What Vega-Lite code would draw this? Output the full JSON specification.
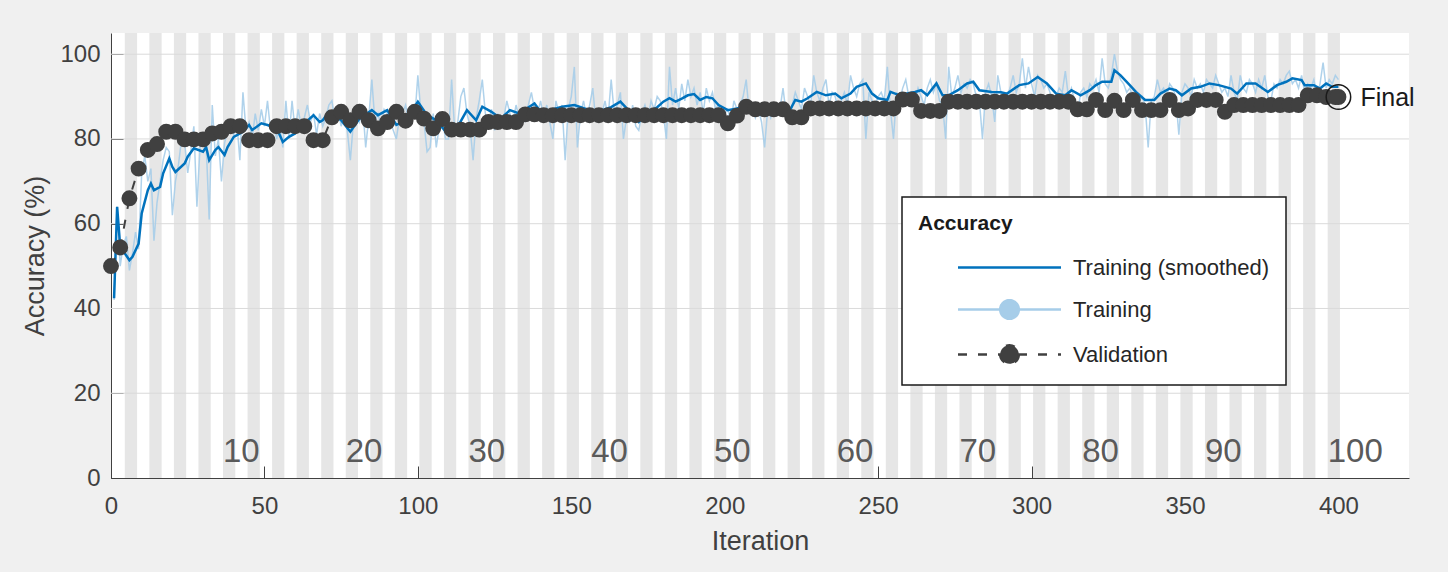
{
  "$schema": "https://vega.github.io/schema/vega-lite/v6.json",
  "width": 1298,
  "height": 445,
  "autosize": {"type": "none"},
  "padding": {"left": 111, "top": 33, "right": 39, "bottom": 94},
  "background": "#f0f0f0",
  "config": {
    "font": "Liberation Sans",
    "view": {"fill": "white", "stroke": null},
    "legend": {
      "orient": "none",
      "legendX": 791,
      "legendY": 164,
      "fillColor": "white",
      "strokeColor": "#1a1a1a",
      "strokeWidth": 1.5,
      "padding": 16,
      "titleFontSize": 21,
      "titleFontWeight": "bold",
      "titleColor": "#1a1a1a",
      "titlePadding": 22,
      "labelFontSize": 22,
      "labelColor": "#262626",
      "labelOffset": 52,
      "labelLimit": 400,
      "symbolSize": 400,
      "symbolOffset": 80,
      "symbolStrokeWidth": 2.5,
      "symbolOpacity": 1,
      "rowPadding": 16
    }
  },
  "datasets": {
    "bands": [
      {"x0": 4.5, "x1": 8.5}, {"x0": 12.5, "x1": 16.5}, {"x0": 20.5, "x1": 24.5}, {"x0": 28.5, "x1": 32.5}, {"x0": 36.5, "x1": 40.5},
      {"x0": 44.5, "x1": 48.5}, {"x0": 52.5, "x1": 56.5}, {"x0": 60.5, "x1": 64.5}, {"x0": 68.5, "x1": 72.5}, {"x0": 76.5, "x1": 80.5},
      {"x0": 84.5, "x1": 88.5}, {"x0": 92.5, "x1": 96.5}, {"x0": 100.5, "x1": 104.5}, {"x0": 108.5, "x1": 112.5}, {"x0": 116.5, "x1": 120.5},
      {"x0": 124.5, "x1": 128.5}, {"x0": 132.5, "x1": 136.5}, {"x0": 140.5, "x1": 144.5}, {"x0": 148.5, "x1": 152.5}, {"x0": 156.5, "x1": 160.5},
      {"x0": 164.5, "x1": 168.5}, {"x0": 172.5, "x1": 176.5}, {"x0": 180.5, "x1": 184.5}, {"x0": 188.5, "x1": 192.5}, {"x0": 196.5, "x1": 200.5},
      {"x0": 204.5, "x1": 208.5}, {"x0": 212.5, "x1": 216.5}, {"x0": 220.5, "x1": 224.5}, {"x0": 228.5, "x1": 232.5}, {"x0": 236.5, "x1": 240.5},
      {"x0": 244.5, "x1": 248.5}, {"x0": 252.5, "x1": 256.5}, {"x0": 260.5, "x1": 264.5}, {"x0": 268.5, "x1": 272.5}, {"x0": 276.5, "x1": 280.5},
      {"x0": 284.5, "x1": 288.5}, {"x0": 292.5, "x1": 296.5}, {"x0": 300.5, "x1": 304.5}, {"x0": 308.5, "x1": 312.5}, {"x0": 316.5, "x1": 320.5},
      {"x0": 324.5, "x1": 328.5}, {"x0": 332.5, "x1": 336.5}, {"x0": 340.5, "x1": 344.5}, {"x0": 348.5, "x1": 352.5}, {"x0": 356.5, "x1": 360.5},
      {"x0": 364.5, "x1": 368.5}, {"x0": 372.5, "x1": 376.5}, {"x0": 380.5, "x1": 384.5}, {"x0": 388.5, "x1": 392.5}, {"x0": 396.5, "x1": 400.5}
    ],
    "grid": [{"g": 20}, {"g": 40}, {"g": 60}, {"g": 80}, {"g": 100}],
    "epochs": [
      {"epoch": "10", "it": 36.5}, {"epoch": "20", "it": 76.5}, {"epoch": "30", "it": 116.5}, {"epoch": "40", "it": 156.5}, {"epoch": "50", "it": 196.5},
      {"epoch": "60", "it": 236.5}, {"epoch": "70", "it": 276.5}, {"epoch": "80", "it": 316.5}, {"epoch": "90", "it": 356.5}, {"epoch": "100", "it": 396.5}
    ],
    "raw": [
      {"i":1,"t":42},{"i":2,"t":64},{"i":3,"t":50},{"i":4,"t":55},{"i":5,"t":57},{"i":6,"t":49},{"i":7,"t":53},{"i":8,"t":58},{"i":9,"t":54},{"i":10,"t":72},
      {"i":11,"t":76},{"i":12,"t":70},{"i":13,"t":73},{"i":14,"t":56},{"i":15,"t":65},{"i":16,"t":70},{"i":17,"t":75},{"i":18,"t":78},{"i":19,"t":77},{"i":20,"t":62},
      {"i":21,"t":70},{"i":22,"t":74},{"i":23,"t":80},{"i":24,"t":79},{"i":25,"t":72},{"i":26,"t":77},{"i":27,"t":83},{"i":28,"t":64},{"i":29,"t":78},{"i":30,"t":80},
      {"i":31,"t":79},{"i":32,"t":61},{"i":33,"t":88},{"i":34,"t":76},{"i":35,"t":80},{"i":36,"t":70},{"i":37,"t":79},{"i":38,"t":82},{"i":39,"t":83},{"i":40,"t":81},
      {"i":41,"t":84},{"i":42,"t":75},{"i":43,"t":91},{"i":44,"t":82},{"i":45,"t":84},{"i":46,"t":80},{"i":47,"t":86},{"i":48,"t":82},{"i":49,"t":87},{"i":50,"t":83},
      {"i":51,"t":89},{"i":52,"t":82},{"i":53,"t":84},{"i":54,"t":80},{"i":55,"t":83},{"i":56,"t":78},{"i":57,"t":89},{"i":58,"t":80},{"i":59,"t":89},{"i":60,"t":82},
      {"i":61,"t":87},{"i":62,"t":83},{"i":63,"t":85},{"i":64,"t":88},{"i":65,"t":84},{"i":66,"t":86},{"i":67,"t":81},{"i":68,"t":86},{"i":69,"t":83},{"i":70,"t":85},
      {"i":71,"t":88},{"i":72,"t":89},{"i":73,"t":84},{"i":74,"t":87},{"i":75,"t":83},{"i":76,"t":86},{"i":77,"t":82},{"i":78,"t":75},{"i":79,"t":84},{"i":80,"t":86},
      {"i":81,"t":84},{"i":82,"t":88},{"i":83,"t":78},{"i":84,"t":85},{"i":85,"t":94},{"i":86,"t":84},{"i":87,"t":86},{"i":88,"t":83},{"i":89,"t":87},{"i":90,"t":86},
      {"i":91,"t":84},{"i":92,"t":82},{"i":93,"t":80},{"i":94,"t":85},{"i":95,"t":86},{"i":96,"t":88},{"i":97,"t":84},{"i":98,"t":87},{"i":99,"t":85},{"i":100,"t":95},
      {"i":101,"t":86},{"i":102,"t":84},{"i":103,"t":77},{"i":104,"t":78},{"i":105,"t":86},{"i":106,"t":78},{"i":107,"t":83},{"i":108,"t":85},{"i":109,"t":80},{"i":110,"t":80},
      {"i":111,"t":94},{"i":112,"t":82},{"i":113,"t":84},{"i":114,"t":90},{"i":115,"t":92},{"i":116,"t":86},{"i":117,"t":83},{"i":118,"t":75},{"i":119,"t":85},{"i":120,"t":89},
      {"i":121,"t":94},{"i":122,"t":86},{"i":123,"t":84},{"i":124,"t":87},{"i":125,"t":82},{"i":126,"t":86},{"i":127,"t":83},{"i":128,"t":85},{"i":129,"t":89},{"i":130,"t":86},
      {"i":131,"t":84},{"i":132,"t":88},{"i":133,"t":85},{"i":134,"t":87},{"i":135,"t":84},{"i":136,"t":88},{"i":137,"t":91},{"i":138,"t":87},{"i":139,"t":86},{"i":140,"t":89},
      {"i":141,"t":85},{"i":142,"t":88},{"i":143,"t":84},{"i":144,"t":80},{"i":145,"t":89},{"i":146,"t":86},{"i":147,"t":88},{"i":148,"t":75},{"i":149,"t":87},{"i":150,"t":90},
      {"i":151,"t":97},{"i":152,"t":78},{"i":153,"t":86},{"i":154,"t":89},{"i":155,"t":85},{"i":156,"t":88},{"i":157,"t":92},{"i":158,"t":84},{"i":159,"t":87},{"i":160,"t":86},
      {"i":161,"t":89},{"i":162,"t":85},{"i":163,"t":94},{"i":164,"t":86},{"i":165,"t":88},{"i":166,"t":91},{"i":167,"t":80},{"i":168,"t":85},{"i":169,"t":84},{"i":170,"t":88},
      {"i":171,"t":83},{"i":172,"t":82},{"i":173,"t":86},{"i":174,"t":88},{"i":175,"t":85},{"i":176,"t":89},{"i":177,"t":87},{"i":178,"t":90},{"i":179,"t":89},{"i":180,"t":86},
      {"i":181,"t":80},{"i":182,"t":97},{"i":183,"t":88},{"i":184,"t":92},{"i":185,"t":87},{"i":186,"t":93},{"i":187,"t":89},{"i":188,"t":94},{"i":189,"t":90},{"i":190,"t":92},
      {"i":191,"t":88},{"i":192,"t":91},{"i":193,"t":86},{"i":194,"t":92},{"i":195,"t":89},{"i":196,"t":91},{"i":197,"t":87},{"i":198,"t":88},{"i":199,"t":85},{"i":200,"t":86},
      {"i":201,"t":87},{"i":202,"t":84},{"i":203,"t":89},{"i":204,"t":87},{"i":205,"t":88},{"i":206,"t":90},{"i":207,"t":94},{"i":208,"t":86},{"i":209,"t":88},{"i":210,"t":85},
      {"i":211,"t":87},{"i":212,"t":84},{"i":213,"t":78},{"i":214,"t":87},{"i":215,"t":85},{"i":216,"t":88},{"i":217,"t":86},{"i":218,"t":87},{"i":219,"t":92},{"i":220,"t":86},
      {"i":221,"t":85},{"i":222,"t":88},{"i":223,"t":91},{"i":224,"t":89},{"i":225,"t":87},{"i":226,"t":92},{"i":227,"t":90},{"i":228,"t":88},{"i":229,"t":95},{"i":230,"t":91},
      {"i":231,"t":89},{"i":232,"t":92},{"i":233,"t":94},{"i":234,"t":88},{"i":235,"t":91},{"i":236,"t":90},{"i":237,"t":87},{"i":238,"t":89},{"i":239,"t":91},{"i":240,"t":88},
      {"i":241,"t":95},{"i":242,"t":92},{"i":243,"t":90},{"i":244,"t":93},{"i":245,"t":94},{"i":246,"t":80},{"i":247,"t":91},{"i":248,"t":89},{"i":249,"t":88},{"i":250,"t":90},
      {"i":251,"t":91},{"i":252,"t":89},{"i":253,"t":97},{"i":254,"t":87},{"i":255,"t":80},{"i":256,"t":91},{"i":257,"t":89},{"i":258,"t":92},{"i":259,"t":94},{"i":260,"t":90},
      {"i":261,"t":91},{"i":262,"t":89},{"i":263,"t":92},{"i":264,"t":90},{"i":265,"t":88},{"i":266,"t":92},{"i":267,"t":94},{"i":268,"t":91},{"i":269,"t":93},{"i":270,"t":89},
      {"i":271,"t":88},{"i":272,"t":80},{"i":273,"t":97},{"i":274,"t":90},{"i":275,"t":92},{"i":276,"t":95},{"i":277,"t":91},{"i":278,"t":93},{"i":279,"t":92},{"i":280,"t":94},
      {"i":281,"t":93},{"i":282,"t":90},{"i":283,"t":89},{"i":284,"t":80},{"i":285,"t":91},{"i":286,"t":93},{"i":287,"t":90},{"i":288,"t":84},{"i":289,"t":95},{"i":290,"t":91},
      {"i":291,"t":89},{"i":292,"t":90},{"i":293,"t":92},{"i":294,"t":95},{"i":295,"t":91},{"i":296,"t":93},{"i":297,"t":99},{"i":298,"t":92},{"i":299,"t":97},{"i":300,"t":93},
      {"i":301,"t":90},{"i":302,"t":95},{"i":303,"t":94},{"i":304,"t":92},{"i":305,"t":93},{"i":306,"t":91},{"i":307,"t":89},{"i":308,"t":90},{"i":309,"t":92},{"i":310,"t":91},
      {"i":311,"t":96},{"i":312,"t":90},{"i":313,"t":92},{"i":314,"t":89},{"i":315,"t":86},{"i":316,"t":91},{"i":317,"t":92},{"i":318,"t":90},{"i":319,"t":93},{"i":320,"t":92},
      {"i":321,"t":94},{"i":322,"t":91},{"i":323,"t":99},{"i":324,"t":93},{"i":325,"t":92},{"i":326,"t":95},{"i":327,"t":100},{"i":328,"t":96},{"i":329,"t":94},{"i":330,"t":93},
      {"i":331,"t":91},{"i":332,"t":92},{"i":333,"t":90},{"i":334,"t":91},{"i":335,"t":89},{"i":336,"t":90},{"i":337,"t":88},{"i":338,"t":78},{"i":339,"t":89},{"i":340,"t":90},
      {"i":341,"t":94},{"i":342,"t":91},{"i":343,"t":92},{"i":344,"t":90},{"i":345,"t":93},{"i":346,"t":92},{"i":347,"t":90},{"i":348,"t":81},{"i":349,"t":91},{"i":350,"t":93},
      {"i":351,"t":92},{"i":352,"t":90},{"i":353,"t":94},{"i":354,"t":92},{"i":355,"t":93},{"i":356,"t":91},{"i":357,"t":94},{"i":358,"t":93},{"i":359,"t":92},{"i":360,"t":95},
      {"i":361,"t":93},{"i":362,"t":91},{"i":363,"t":92},{"i":364,"t":90},{"i":365,"t":95},{"i":366,"t":91},{"i":367,"t":89},{"i":368,"t":95},{"i":369,"t":92},{"i":370,"t":91},
      {"i":371,"t":94},{"i":372,"t":93},{"i":373,"t":91},{"i":374,"t":94},{"i":375,"t":92},{"i":376,"t":95},{"i":377,"t":90},{"i":378,"t":89},{"i":379,"t":93},{"i":380,"t":92},
      {"i":381,"t":94},{"i":382,"t":93},{"i":383,"t":95},{"i":384,"t":96},{"i":385,"t":93},{"i":386,"t":94},{"i":387,"t":92},{"i":388,"t":95},{"i":389,"t":91},{"i":390,"t":93},
      {"i":391,"t":92},{"i":392,"t":94},{"i":393,"t":90},{"i":394,"t":93},{"i":395,"t":98},{"i":396,"t":92},{"i":397,"t":94},{"i":398,"t":93},{"i":399,"t":95},{"i":400,"t":94}
    ],
    "smooth": [
      {"i":1,"s":42.4},{"i":2,"s":64},{"i":3,"s":54.6},{"i":6,"s":51.4},{"i":7,"s":52.2},{"i":9,"s":55.3},{"i":10,"s":62.4},{"i":12,"s":67.9},{"i":13,"s":69.5},{"i":14,"s":67.9},
      {"i":16,"s":68.7},{"i":17,"s":71.9},{"i":19,"s":75.4},{"i":20,"s":73.4},{"i":21,"s":72.2},{"i":24,"s":74.2},{"i":25,"s":75.8},{"i":27,"s":77.8},{"i":30,"s":77},{"i":31,"s":78.1},
      {"i":32,"s":75},{"i":34,"s":77.4},{"i":35,"s":78.1},{"i":37,"s":76.2},{"i":38,"s":78.1},{"i":40,"s":80.5},{"i":43,"s":81.7},{"i":45,"s":83.3},{"i":46,"s":82.1},{"i":49,"s":83.7},
      {"i":51,"s":83.3},{"i":54,"s":82.5},{"i":56,"s":79.3},{"i":58,"s":80.5},{"i":60,"s":81.3},{"i":63,"s":83.7},{"i":66,"s":85.6},{"i":68,"s":84},{"i":69,"s":84.4},{"i":71,"s":86.4},
      {"i":75,"s":84.4},{"i":78,"s":81.7},{"i":81,"s":84.8},{"i":85,"s":86.8},{"i":87,"s":85.6},{"i":90,"s":86.8},{"i":93,"s":83.3},{"i":96,"s":84.4},{"i":100,"s":88.8},{"i":103,"s":85.6},
      {"i":106,"s":84.4},{"i":110,"s":80.9},{"i":113,"s":82.9},{"i":116,"s":86.8},{"i":119,"s":84.4},{"i":121,"s":87.6},{"i":124,"s":86.4},{"i":127,"s":84.8},{"i":130,"s":86.8},{"i":133,"s":86},
      {"i":138,"s":88.4},{"i":140,"s":86.4},{"i":143,"s":86.8},{"i":147,"s":87.6},{"i":151,"s":88},{"i":155,"s":87},{"i":159,"s":86.5},{"i":163,"s":87.5},{"i":166,"s":88.8},{"i":169,"s":86.5},
      {"i":172,"s":84},{"i":175,"s":86},{"i":178,"s":87.5},{"i":180,"s":88.8},{"i":182,"s":89.6},{"i":184,"s":88.8},{"i":186,"s":89.5},{"i":188,"s":90.3},{"i":190,"s":90.6},{"i":192,"s":89.2},
      {"i":194,"s":89.9},{"i":196,"s":89.6},{"i":198,"s":88},{"i":201,"s":86.8},{"i":204,"s":87.2},{"i":208,"s":88},{"i":211,"s":87.5},{"i":215,"s":86.8},{"i":218,"s":86.5},{"i":221,"s":86.4},
      {"i":223,"s":89.2},{"i":225,"s":88.8},{"i":227,"s":89.6},{"i":230,"s":91.1},{"i":233,"s":90.3},{"i":236,"s":90.7},{"i":238,"s":89.6},{"i":241,"s":90.7},{"i":243,"s":92.3},{"i":246,"s":93.1},
      {"i":248,"s":90.7},{"i":250,"s":89.6},{"i":253,"s":89.2},{"i":254,"s":91.1},{"i":257,"s":90.3},{"i":259,"s":90.7},{"i":262,"s":91.1},{"i":264,"s":91.5},{"i":266,"s":90.3},{"i":269,"s":93.1},
      {"i":271,"s":90.3},{"i":273,"s":90.3},{"i":276,"s":91.5},{"i":279,"s":93.1},{"i":281,"s":93.5},{"i":283,"s":91.5},{"i":287,"s":91.1},{"i":290,"s":91},{"i":292,"s":90.7},{"i":296,"s":92.7},
      {"i":299,"s":93.1},{"i":302,"s":94.6},{"i":305,"s":93.1},{"i":308,"s":90.7},{"i":311,"s":90.3},{"i":313,"s":91.5},{"i":316,"s":90.3},{"i":319,"s":91.5},{"i":321,"s":92.7},{"i":323,"s":93.5},
      {"i":326,"s":93.5},{"i":327,"s":96.2},{"i":329,"s":95},{"i":332,"s":92.7},{"i":334,"s":91.1},{"i":337,"s":89.2},{"i":340,"s":89.2},{"i":342,"s":90.7},{"i":345,"s":91.9},{"i":347,"s":91.5},
      {"i":349,"s":90.3},{"i":352,"s":91.9},{"i":355,"s":92.3},{"i":358,"s":93.1},{"i":361,"s":92.7},{"i":365,"s":91.9},{"i":367,"s":90.7},{"i":370,"s":93.1},{"i":373,"s":93.1},{"i":377,"s":91.1},
      {"i":380,"s":92.7},{"i":383,"s":93.5},{"i":385,"s":94.3},{"i":388,"s":93.9},{"i":389,"s":92.7},{"i":392,"s":92.7},{"i":394,"s":91.9},{"i":396,"s":93.1},{"i":398,"s":92.3},{"i":400,"s":92.3}
    ],
    "val": [
      {"i":0,"v":50},{"i":3,"v":54.4},{"i":6,"v":66},{"i":9,"v":73},{"i":12,"v":77.4},{"i":15,"v":78.8},{"i":18,"v":81.7},{"i":21,"v":81.7},{"i":24,"v":79.9},{"i":27,"v":79.9},
      {"i":30,"v":79.9},{"i":33,"v":81.3},{"i":36,"v":81.7},{"i":39,"v":83},{"i":42,"v":83},{"i":45,"v":79.7},{"i":48,"v":79.7},{"i":51,"v":79.7},{"i":54,"v":83},{"i":57,"v":83},
      {"i":60,"v":83},{"i":63,"v":83},{"i":66,"v":79.7},{"i":69,"v":79.7},{"i":72,"v":85.1},{"i":75,"v":86.4},{"i":78,"v":84.4},{"i":81,"v":86.4},{"i":84,"v":84.4},{"i":87,"v":82.5},
      {"i":90,"v":84},{"i":93,"v":86.4},{"i":96,"v":84.3},{"i":99,"v":86.4},{"i":102,"v":84.8},{"i":105,"v":82.5},{"i":108,"v":84.7},{"i":111,"v":82.2},{"i":114,"v":82.2},{"i":117,"v":82.2},
      {"i":120,"v":82.2},{"i":123,"v":84},{"i":126,"v":84},{"i":129,"v":84},{"i":132,"v":84},{"i":135,"v":85.8},{"i":138,"v":85.8},{"i":141,"v":85.6},{"i":144,"v":85.6},{"i":147,"v":85.6},
      {"i":150,"v":85.6},{"i":153,"v":85.6},{"i":156,"v":85.6},{"i":159,"v":85.6},{"i":162,"v":85.6},{"i":165,"v":85.6},{"i":168,"v":85.6},{"i":171,"v":85.6},{"i":174,"v":85.6},{"i":177,"v":85.6},
      {"i":180,"v":85.6},{"i":183,"v":85.6},{"i":186,"v":85.6},{"i":189,"v":85.6},{"i":192,"v":85.6},{"i":195,"v":85.6},{"i":198,"v":85.6},{"i":201,"v":83.7},{"i":204,"v":85.5},{"i":207,"v":87.6},
      {"i":210,"v":87},{"i":213,"v":87},{"i":216,"v":87},{"i":219,"v":87},{"i":222,"v":85.1},{"i":225,"v":85.1},{"i":228,"v":87.2},{"i":231,"v":87.2},{"i":234,"v":87.2},{"i":237,"v":87.2},
      {"i":240,"v":87.2},{"i":243,"v":87.2},{"i":246,"v":87.2},{"i":249,"v":87.2},{"i":252,"v":87.2},{"i":255,"v":87.2},{"i":258,"v":89.3},{"i":261,"v":89.3},{"i":264,"v":86.6},{"i":267,"v":86.6},
      {"i":270,"v":86.6},{"i":273,"v":88.8},{"i":276,"v":88.8},{"i":279,"v":88.8},{"i":282,"v":88.8},{"i":285,"v":88.8},{"i":288,"v":88.8},{"i":291,"v":88.8},{"i":294,"v":88.8},{"i":297,"v":88.8},
      {"i":300,"v":88.8},{"i":303,"v":88.8},{"i":306,"v":88.8},{"i":309,"v":88.8},{"i":312,"v":88.8},{"i":315,"v":87},{"i":318,"v":87},{"i":321,"v":89.2},{"i":324,"v":86.8},{"i":327,"v":89},
      {"i":330,"v":86.8},{"i":333,"v":89.2},{"i":336,"v":86.8},{"i":339,"v":86.8},{"i":342,"v":86.8},{"i":345,"v":89.2},{"i":348,"v":86.8},{"i":351,"v":87.2},{"i":354,"v":89.2},{"i":357,"v":89.2},
      {"i":360,"v":89.2},{"i":363,"v":86.4},{"i":366,"v":88},{"i":369,"v":88},{"i":372,"v":88},{"i":375,"v":88},{"i":378,"v":88},{"i":381,"v":88},{"i":384,"v":88},{"i":387,"v":88},
      {"i":390,"v":90.3},{"i":393,"v":90.3},{"i":396,"v":89.9},{"i":399,"v":89.9},{"i":400,"v":89.9}
    ],
    "final": [{"i": 400, "v": 89.9, "label": "Final"}]
  },
  "encoding": {
    "x": {
      "type": "quantitative",
      "scale": {"domain": [0, 423], "nice": false, "zero": false},
      "axis": {
        "title": "Iteration",
        "values": [0, 50, 100, 150, 200, 250, 300, 350, 400],
        "grid": false,
        "tickSize": -12,
        "tickColor": "#404040",
        "domainColor": "#404040",
        "labelPadding": 28,
        "labelFlush": false,
        "labelFontSize": 24,
        "labelColor": "#404040",
        "titleFontSize": 27,
        "titleFontWeight": "normal",
        "titleColor": "#404040",
        "titlePadding": 10
      }
    }
  },
  "layer": [
    {
      "data": {"name": "bands"},
      "mark": {"type": "rect", "color": "#e6e6e6"},
      "encoding": {
        "x": {"field": "x0", "type": "quantitative"},
        "x2": {"field": "x1"}
      }
    },
    {
      "data": {"name": "grid"},
      "mark": {"type": "rule", "color": "#dadada", "strokeWidth": 1},
      "encoding": {
        "y": {
          "field": "g",
          "type": "quantitative",
          "scale": {"domain": [0, 105], "nice": false},
          "axis": {
            "title": "Accuracy (%)",
            "values": [0, 20, 40, 60, 80, 100],
            "grid": false,
            "tickSize": -12,
            "tickColor": "#404040",
            "domainColor": "#404040",
            "labelPadding": 23,
            "labelFlush": false,
            "labelFontSize": 24,
            "labelColor": "#404040",
            "titleFontSize": 27,
            "titleFontWeight": "normal",
            "titleColor": "#404040",
            "titlePadding": 10
          }
        }
      }
    },
    {
      "data": {"name": "epochs"},
      "mark": {"type": "text", "align": "left", "baseline": "alphabetic", "fontSize": 33, "color": "#5a5a5a"},
      "encoding": {
        "x": {"field": "it", "type": "quantitative"},
        "y": {"datum": 3.8, "type": "quantitative"},
        "text": {"field": "epoch"}
      }
    },
    {
      "data": {"name": "raw"},
      "mark": {"type": "line", "strokeWidth": 1.5, "opacity": 0.9},
      "encoding": {
        "x": {"field": "i", "type": "quantitative"},
        "y": {"field": "t", "type": "quantitative"},
        "color": {
          "datum": "Training",
          "scale": {"domain": ["Training (smoothed)", "Training", "Validation"], "range": ["#0072bd", "#a6cde9", "#404040"]},
          "legend": {
            "title": "Accuracy",
            "symbolType": {"expr": "datum.value === 'Training (smoothed)' ? 'M-5.15,0H5.15' : 'M-5.15,0H5.15M0.93,0A0.93,0.93,0,1,1,-0.93,0A0.93,0.93,0,1,1,0.93,0Z'"},
            "symbolDash": {"expr": "datum.value === 'Validation' ? [9, 11] : [1, 0]"}
          }
        }
      }
    },
    {
      "data": {"name": "smooth"},
      "mark": {"type": "line", "strokeWidth": 2.5},
      "encoding": {
        "x": {"field": "i", "type": "quantitative"},
        "y": {"field": "s", "type": "quantitative"},
        "color": {"datum": "Training (smoothed)"}
      }
    },
    {
      "data": {"name": "val"},
      "mark": {"type": "line", "strokeWidth": 2, "strokeDash": [9, 11], "point": {"filled": true, "size": 254, "opacity": 1}},
      "encoding": {
        "x": {"field": "i", "type": "quantitative"},
        "y": {"field": "v", "type": "quantitative"},
        "color": {"datum": "Validation"}
      }
    },
    {
      "data": {"name": "final"},
      "mark": {"type": "point", "shape": "circle", "filled": false, "stroke": "#1a1a1a", "strokeWidth": 1.5, "size": 600, "opacity": 1},
      "encoding": {
        "x": {"field": "i", "type": "quantitative"},
        "y": {"field": "v", "type": "quantitative"}
      }
    },
    {
      "data": {"name": "final"},
      "mark": {"type": "text", "align": "left", "baseline": "alphabetic", "dx": 22, "dy": 9, "fontSize": 25, "color": "#1a1a1a"},
      "encoding": {
        "x": {"field": "i", "type": "quantitative"},
        "y": {"field": "v", "type": "quantitative"},
        "text": {"field": "label"}
      }
    }
  ]
}
